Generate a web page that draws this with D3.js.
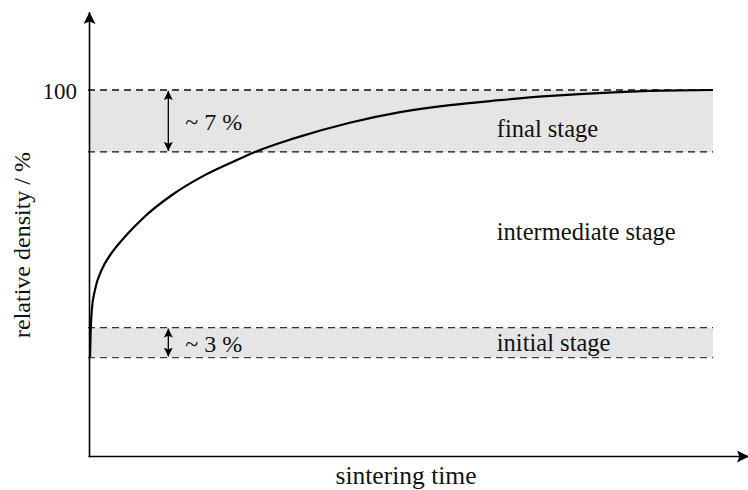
<!DOCTYPE html>
<html>
<head>
<meta charset="utf-8">
<script src="https://cdn.jsdelivr.net/npm/d3@7"></script>
<style>
	body { margin: 0; background: #fff; }
	text { font-family: "Liberation Serif", "DejaVu Serif", serif; fill: #111; }
</style>
</head>
<body>
<div id="main-view"></div>
<script>
// densification curve (time in arbitrary units, density in %)
var timePoints = [0, 0.1, 0.3, 0.8, 1.9, 3.5, 5.6, 8.8, 13.1, 18.5, 23.3, 26.5, 32.6, 41.7, 49.8, 57.8, 65.8, 73.3, 84.0, 92.0, 100];
var densityValues = [69.74, 72.6, 75.2, 77.4, 79.7, 81.6, 83.4, 85.7, 88.1, 90.4, 92.0, 93.0, 94.5, 96.3, 97.5, 98.3, 98.85, 99.3, 99.74, 99.92, 100];

var stageNames = ["final stage", "intermediate stage", "initial stage"];
var stageLabelDensity = [94.64, 83.06, 70.45];

var bandLower = [93.0, 69.74];
var bandUpper = [100, 73.13];
var bandLabels = ["~ 7 %", "~ 3 %"];

var yTickValues = [100];
var xTitle = "sintering time";
var yTitle = "relative density / %";

var width = 748,
	height = 490;
var margin = { left: 90, right: 35, top: 90, bottom: 33 };

var x = d3.scaleLinear()
	.domain([0, 100])
	.range([margin.left, width - margin.right]);
var y = d3.scaleLinear()
	.domain([58.5, 100])
	.range([height - margin.bottom, margin.top]);

var svg = d3.select("#main-view").append("svg")
	.attr("width", width)
	.attr("height", height);

// grey bands for initial and final stage
var bands = bandLower.map(function(lo, i) {
	return { lo: lo, hi: bandUpper[i], label: bandLabels[i] };
});

svg.selectAll(".band")
	.data(bands)
	.enter().append("rect")
	.attr("class", "band")
	.attr("x", x(0))
	.attr("width", x(100) - x(0))
	.attr("y", function(d) { return y(d.hi); })
	.attr("height", function(d) { return y(d.lo) - y(d.hi); })
	.attr("fill", "#e5e5e5");

var dashed = [];
bands.forEach(function(b, i) {
	dashed.push({ v: b.hi, c: i === 0 ? "#111" : "#333" });
	dashed.push({ v: b.lo, c: i === 0 ? "#111" : "#444" });
});

svg.selectAll(".dash")
	.data(dashed)
	.enter().append("line")
	.attr("class", "dash")
	.attr("x1", x(0) - 2)
	.attr("x2", x(100))
	.attr("y1", function(d) { return y(d.v); })
	.attr("y2", function(d) { return y(d.v); })
	.attr("stroke", function(d) { return d.c; })
	.attr("stroke-width", 1.3)
	.attr("stroke-dasharray", "7,5");

// arrow markers
var defs = svg.append("defs");
defs.append("marker")
	.attr("id", "tip")
	.attr("viewBox", "0 0 10 10")
	.attr("refX", 10)
	.attr("refY", 5)
	.attr("markerWidth", 9)
	.attr("markerHeight", 9)
	.attr("markerUnits", "userSpaceOnUse")
	.attr("orient", "auto-start-reverse")
	.append("path")
	.attr("d", "M0,0 L10,5 L0,10 L2,5 Z")
	.attr("fill", "#000");

var arrowT = 12.57;
svg.selectAll(".span-arrow")
	.data(bands)
	.enter().append("line")
	.attr("class", "span-arrow")
	.attr("x1", x(arrowT))
	.attr("x2", x(arrowT))
	.attr("y1", function(d) { return y(d.hi) + 1; })
	.attr("y2", function(d) { return y(d.lo) - 1; })
	.attr("stroke", "#000")
	.attr("stroke-width", 1.3)
	.attr("marker-start", "url(#tip)")
	.attr("marker-end", "url(#tip)");

svg.selectAll(".span-label")
	.data(bands)
	.enter().append("text")
	.attr("class", "span-label")
	.attr("x", x(arrowT) + 17)
	.attr("y", function(d) { return (y(d.hi) + y(d.lo)) / 2 + 9; })
	.style("font-size", "24px")
	.text(function(d) { return d.label; });

// stage labels
svg.selectAll(".stage")
	.data(stageNames)
	.enter().append("text")
	.attr("class", "stage")
	.attr("x", x(65.3))
	.attr("y", function(d, i) { return y(stageLabelDensity[i]); })
	.style("font-size", "24.5px")
	.text(function(d) { return d; });

// the curve
var pts = timePoints.map(function(t, i) { return [t, densityValues[i]]; });
var line = d3.line()
	.x(function(d) { return x(d[0]); })
	.y(function(d) { return y(d[1]); })
	.curve(d3.curveMonotoneX);

svg.append("path")
	.datum(pts)
	.attr("d", line)
	.attr("fill", "none")
	.attr("stroke", "#000")
	.attr("stroke-width", 2.2);

// axes with arrowheads
defs.append("marker")
	.attr("id", "axtip")
	.attr("viewBox", "0 0 10 10")
	.attr("refX", 10)
	.attr("refY", 5)
	.attr("markerWidth", 16)
	.attr("markerHeight", 12)
	.attr("markerUnits", "userSpaceOnUse")
	.attr("orient", "auto")
	.append("path")
	.attr("d", "M0,0 L10,5 L0,10 L2,5 Z")
	.attr("fill", "#000");

var x0 = x(0) - 0.5,
	y0 = y(58.5) - 0.5;

svg.append("line")
	.attr("x1", x0).attr("y1", y0 + 0.8)
	.attr("x2", x0).attr("y2", 12)
	.attr("stroke", "#000")
	.attr("stroke-width", 1.6)
	.attr("marker-end", "url(#axtip)");

svg.append("line")
	.attr("x1", x0 - 0.8).attr("y1", y0)
	.attr("x2", 749).attr("y2", y0)
	.attr("stroke", "#000")
	.attr("stroke-width", 1.6)
	.attr("marker-end", "url(#axtip)");

// tick label
var yAxis = d3.axisLeft(y).tickValues(yTickValues).tickSize(0).tickPadding(13);
svg.append("g")
	.attr("transform", "translate(" + x(0) + ",0)")
	.call(yAxis)
	.call(function(g) { g.select(".domain").remove(); })
	.selectAll("text")
	.attr("dy", "0.35em")
	.style("font-family", "\"Liberation Serif\", serif")
	.style("font-size", "23px")
	.attr("fill", "#111");

// titles
svg.append("text")
	.attr("x", 406)
	.attr("y", 484)
	.attr("text-anchor", "middle")
	.style("font-size", "25.5px")
	.text(xTitle);

svg.append("text")
	.attr("transform", "translate(30,245) rotate(-90)")
	.attr("text-anchor", "middle")
	.style("font-size", "24px")
	.text(yTitle);
</script>
</body>
</html>
